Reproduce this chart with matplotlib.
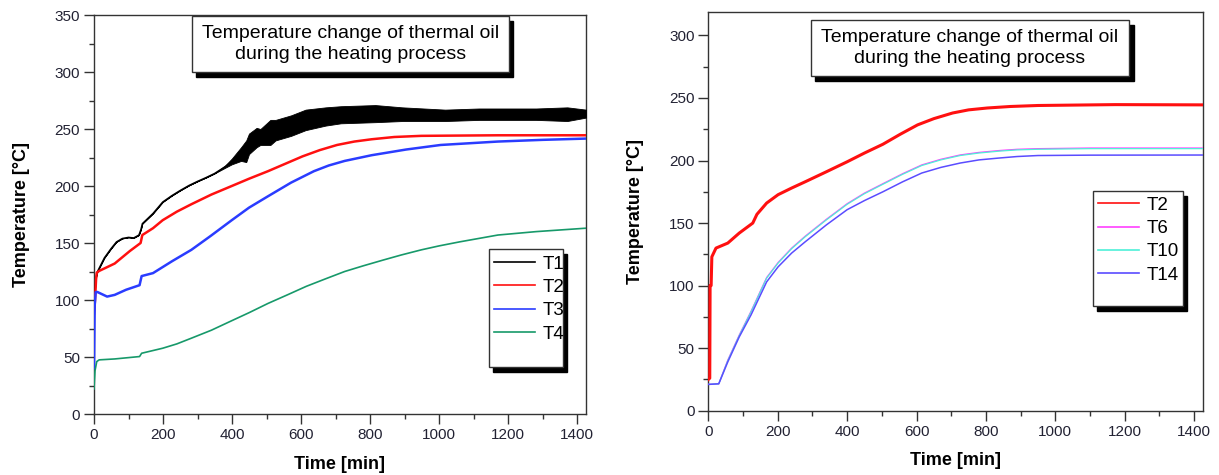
import matplotlib
matplotlib.use("Agg")
import matplotlib.pyplot as plt
from matplotlib.patches import Rectangle
from matplotlib.ticker import MultipleLocator

plt.rcParams["font.family"] = ["Liberation Sans", "DejaVu Sans"]

# ---- left panel: T1..T4 (time in min, temperature in degC) ----
# T1 oscillates strongly after ~380 min, so it is kept as a low/high envelope
t1_time = [0, 3, 6, 10, 15, 30, 49, 65, 82, 100, 115, 130, 136, 140, 171, 199, 225, 249, 275, 299,
           325, 349, 380, 399, 426, 441, 449, 471, 482, 511, 526, 571, 613, 671, 715, 815, 893,
           1017, 1115, 1281, 1371, 1425]
t1_low = [88, 110, 120, 125, 128, 137, 145, 151, 154, 155, 154.5, 157, 162, 167, 176, 186, 191.5, 196, 200.5, 204,
          207.5, 211, 216, 219, 222, 221, 228, 234, 236, 236, 240, 244, 249, 253, 255, 256, 257,
          257, 258, 258, 257, 260]
t1_high = [88, 110, 120, 125, 128, 137, 145, 151, 154, 155, 154.5, 157, 162, 167, 176, 186, 191.5, 196, 200.5, 204,
           207.5, 211, 218, 224, 234, 240, 246, 251, 250, 258, 258, 262, 267, 269, 270, 271, 269,
           267, 268, 268, 269, 267]

t2_time = [0, 3, 6, 8, 15, 60, 104, 135, 140, 171, 199, 240, 282, 340, 399, 450, 504, 554, 604, 654,
           704, 754, 804, 870, 948, 1170, 1425]
t2_temp = [88, 100, 118, 124, 125.5, 132, 143, 150, 157, 163, 170, 177.5, 184, 192.5, 200, 206.5, 213, 219.5, 226, 231.5,
           236, 239, 241, 243, 244, 244.5, 244.5]

t3_time = [0, 2, 5, 10, 38, 60, 93, 132, 138, 171, 226, 282, 337, 399, 449, 504, 571, 637, 680,
           726, 804, 904, 1004, 1170, 1300, 1425]
t3_temp = [40, 95, 107, 107, 103, 104.5, 109, 113, 121, 123.6, 134, 144, 156, 170, 181, 191, 203, 213, 218,
           222, 227, 232, 236, 239, 240.5, 241.6]

t4_time = [0, 3, 8, 15, 60, 132, 138, 199, 240, 282, 340, 393, 450, 504, 560, 615, 670, 726, 780, 837,
           890, 948, 1000, 1059, 1170, 1281, 1425]
t4_temp = [22, 38, 46, 47.5, 48.3, 50.4, 53.3, 57.7, 61.5, 66.5, 73.5, 81, 89, 97, 104.5, 112, 118.5, 125, 130, 135,
           139.5, 144, 147.5, 151, 157, 160, 163]

# ---- right panel: T2, T6, T10, T14 ----
r2_time = [0, 4, 5, 8, 10, 22, 56, 89, 128, 140, 168, 201, 240, 279, 340, 400, 450, 503, 553, 603,
           650, 704, 750, 804, 870, 950, 1173, 1425]
r2_temp = [25, 26, 100, 100, 123, 130, 134, 142, 150, 157, 166, 172.7, 178, 183, 191, 199, 206, 213, 221, 228.5,
           233.5, 238, 240.5, 242, 243.2, 244, 244.7, 244.5]

r_time = [0, 30, 56, 89, 123, 168, 201, 240, 279, 340, 400, 450, 503, 560, 615, 670, 726, 780, 838,
          890, 950, 1100, 1425]
r6_temp = [21, 21.5, 40.5, 60.5, 79.5, 106.5, 118.5, 130, 139.5, 153, 165.5, 174, 181.5, 189.5, 196.5, 201, 204.5, 206.5, 208,
           209, 209.5, 210, 210]
r10_temp = [21, 21.5, 40, 60, 79, 106, 118, 129.5, 139, 152.5, 165, 173.5, 181, 189, 196, 200.5, 204, 206, 207.5,
            208.5, 209, 209.5, 209.5]
r14_temp = [21, 21.5, 39, 59, 76.6, 103, 115, 126, 135, 148.5, 160.7, 168, 175, 183, 190, 194.5, 198, 200.5, 202,
            203.2, 204, 204.3, 204.4]

title_text = "Temperature change of thermal oil\nduring the heating process"
tick_color = "#222233"

fig = plt.figure(figsize=(12.19, 4.75), dpi=100)
ax1 = fig.add_axes([0.0771, 0.1284, 0.4036, 0.84])
ax2 = fig.add_axes([0.5811, 0.1354, 0.4056, 0.84])

ax1.fill_between(t1_time, t1_low, t1_high, color="black", lw=0.6, zorder=3)
ax1.plot(t1_time, [(a + b) / 2 for a, b in zip(t1_low, t1_high)], color="black", lw=1.0, label="T1", zorder=3)
ax1.plot(t2_time, t2_temp, color="#ff1010", lw=1.8, label="T2", zorder=4)
ax1.plot(t3_time, t3_temp, color="#2a3cff", lw=1.8, label="T3", zorder=4)
ax1.plot(t4_time, t4_temp, color="#17996a", lw=1.2, label="T4", zorder=4)
ax1.set_ylim(0, 350)

ax2.plot(r2_time, r2_temp, color="#ff1010", lw=2.2, label="T2", zorder=4)
ax2.plot(r_time, r6_temp, color="#ff40ff", lw=0.9, label="T6", zorder=3)
ax2.plot(r_time, r10_temp, color="#4ef0d8", lw=0.9, label="T10", zorder=3)
ax2.plot(r_time, r14_temp, color="#5a4cff", lw=1.1, label="T14", zorder=4)
ax2.set_ylim(0, 319)

boxes = {
    ax1: dict(title=(0.199, 0.857, 0.843, 0.997), legend=(0.803, 0.118, 0.953, 0.414), anchor=(0.797, 0.416)),
    ax2: dict(title=(0.207, 0.839, 0.851, 0.979), legend=(0.778, 0.262, 0.960, 0.551), anchor=(0.772, 0.555)),
}

for ax in (ax1, ax2):
    ax.set_xlim(0, 1425)
    ax.xaxis.set_major_locator(MultipleLocator(200))
    ax.xaxis.set_minor_locator(MultipleLocator(100))
    ax.yaxis.set_major_locator(MultipleLocator(50))
    ax.yaxis.set_minor_locator(MultipleLocator(25))
    ax.tick_params(which="major", direction="out", length=7, width=1, labelsize=11,
                   labelcolor=tick_color, color="#333333", pad=3)
    ax.tick_params(which="minor", direction="out", length=3.5, width=1, color="#333333")
    for sp in ax.spines.values():
        sp.set_color("#333333")
        sp.set_linewidth(1.0)
    ax.set_xlabel("Time [min]", fontsize=13, fontweight="bold", labelpad=10)
    ax.set_ylabel("Temperature [°C]", fontsize=13, fontweight="bold", labelpad=18)

    b = boxes[ax]
    # title box with solid drop shadow
    x0, y0, x1, y1 = b["title"]
    ax.add_patch(Rectangle((x0 + 0.009, y0 - 0.012), x1 - x0, y1 - y0, transform=ax.transAxes,
                           facecolor="black", edgecolor="black", zorder=6, clip_on=False))
    ax.add_patch(Rectangle((x0, y0), x1 - x0, y1 - y0, transform=ax.transAxes,
                           facecolor="white", edgecolor="#333333", lw=1.0, zorder=7, clip_on=False))
    ax.text((x0 + x1) / 2, (y0 + y1) / 2, title_text, transform=ax.transAxes, ha="center",
            va="center", fontsize=14, linespacing=1.3, zorder=8)

    # legend frame with solid drop shadow
    x0, y0, x1, y1 = b["legend"]
    ax.add_patch(Rectangle((x0 + 0.009, y0 - 0.012), x1 - x0, y1 - y0, transform=ax.transAxes,
                           facecolor="black", edgecolor="black", zorder=6))
    ax.add_patch(Rectangle((x0, y0), x1 - x0, y1 - y0, transform=ax.transAxes,
                           facecolor="white", edgecolor="#333333", lw=1.0, zorder=7))
    leg = ax.legend(loc="upper left", bbox_to_anchor=b["anchor"], frameon=False, fontsize=13.5,
                    handlelength=2.2, handletextpad=0.4, labelspacing=0.33, borderaxespad=0)
    leg.set_zorder(9)
    for line in leg.get_lines():
        line.set_linewidth(1.2)

fig.savefig("out.png", dpi=100)
